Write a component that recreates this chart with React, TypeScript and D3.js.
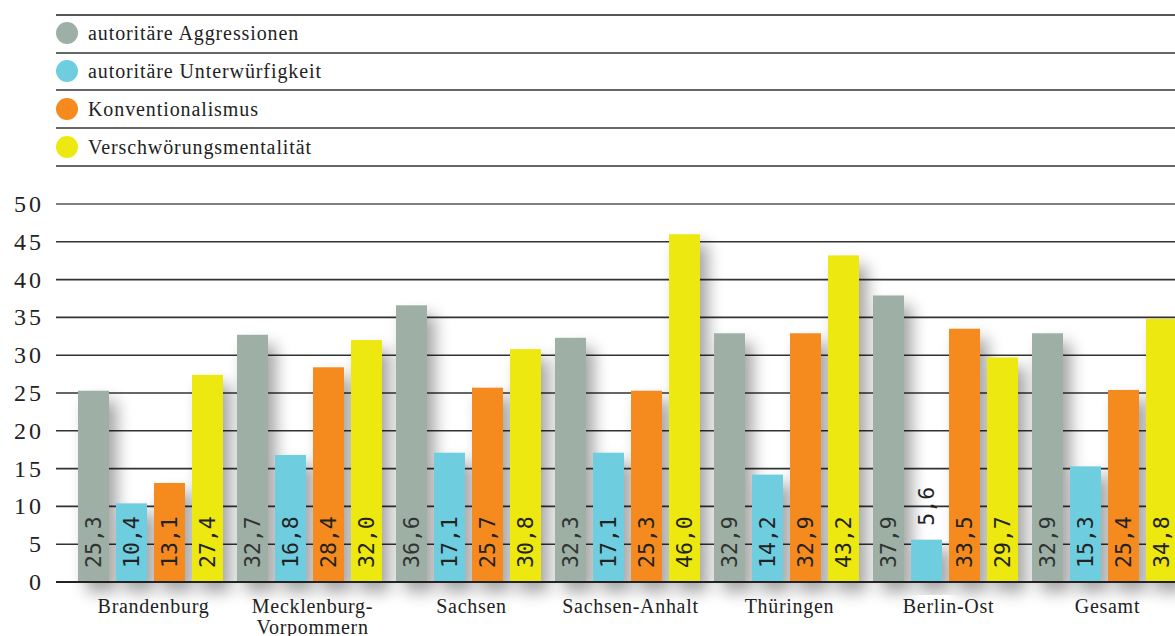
import React from "react";
import * as d3 from "d3";

const categories = ["Brandenburg", "Mecklenburg-\nVorpommern", "Sachsen", "Sachsen-Anhalt", "Thüringen", "Berlin-Ost", "Gesamt"];
const seriesNames = ["autoritäre Aggressionen", "autoritäre Unterwürfigkeit", "Konventionalismus", "Verschwörungsmentalität"];
const seriesColors = ["#9eafa5", "#6fcde0", "#f58a1f", "#ede80f"];
const aggression = [25.3, 32.7, 36.6, 32.3, 32.9, 37.9, 32.9];
const submission = [10.4, 16.8, 17.1, 17.1, 14.2, 5.6, 15.3];
const convention = [13.1, 28.4, 25.7, 25.3, 32.9, 33.5, 25.4];
const conspiracy = [27.4, 32.0, 30.8, 46.0, 43.2, 29.7, 34.8];
const yTicks = [0, 5, 10, 15, 20, 25, 30, 35, 40, 45, 50];

const W = 1175, H = 636;
const SERIF = "Liberation Serif, Times New Roman, serif";

export default function App() {
  const series = [aggression, submission, convention, conspiracy];
  const y = d3.scaleLinear().domain([0, 50]).range([582, 204]);
  const x0 = d3.scaleBand<number>().domain(d3.range(categories.length)).range([78, 1177]).paddingInner(14 / 159).paddingOuter(0);
  const x1 = d3.scaleBand<number>().domain(d3.range(4)).range([0, x0.bandwidth()]).paddingInner(7 / 38).paddingOuter(0);
  const fmt = (v: number) => v.toFixed(1).replace(".", ",");

  const bars: { cx: number; x: number; w: number; v: number; s: number }[] = [];
  categories.forEach((_, ci) => {
    series.forEach((arr, si) => {
      const x = x0(ci)! + x1(si)!;
      bars.push({ x, w: x1.bandwidth(), cx: x + x1.bandwidth() / 2, v: arr[ci], s: si });
    });
  });

  const legendLines = [15, 53, 90, 128, 166];

  return (
    <svg width={W} height={H} style={{ position: "absolute", left: 0, top: 0, background: "#fff" }}>
      <defs>
        <filter id="sh" x="-80%" y="-20%" width="260%" height="150%">
          <feGaussianBlur in="SourceAlpha" stdDeviation="8" />
          <feOffset dx="8" dy="10" result="b" />
          <feComponentTransfer>
            <feFuncA type="linear" slope="0.36" />
          </feComponentTransfer>
        </filter>
      </defs>
      <rect width={W} height={H} fill="#fff" />
      {/* legend */}
      {legendLines.map((ly, i) => (
        <line key={i} x1={56} x2={W} y1={ly} y2={ly} stroke={i === 0 ? "#555" : "#333"} strokeWidth={i === 0 ? 2 : 1.6} />
      ))}
      {seriesNames.map((n, i) => (
        <g key={n}>
          <circle cx={67} cy={33 + i * 38} r={11} fill={seriesColors[i]} />
          <text x={88} y={40 + i * 38} fontFamily={SERIF} fontSize={20} letterSpacing={0.9} fill="#222">{n}</text>
        </g>
      ))}
      {/* grid */}
      {yTicks.filter((t) => t > 0).map((t) => (
        <line key={t} x1={56} x2={W} y1={y(t)} y2={y(t)} stroke={t === 50 ? "#555" : "#333"} strokeWidth={1.6} />
      ))}
      {yTicks.map((t) => (
        <text key={t} x={44} y={y(t) + 8} textAnchor="end" fontFamily={SERIF} fontSize={24} letterSpacing={3} fill="#222">{t}</text>
      ))}
      {/* shadows */}
      {bars.map((b, i) => (
        <rect key={i} x={b.x} y={y(b.v)} width={b.w} height={y(0) - y(b.v)} fill="#000" filter="url(#sh)" />
      ))}
      <line x1={56} x2={W} y1={y(0)} y2={y(0)} stroke="#222" strokeWidth={2} />
      {bars.map((b, i) => (
        <rect key={i} x={b.x} y={y(b.v)} width={b.w} height={y(0) - y(b.v) - 1} fill={seriesColors[b.s]} />
      ))}
      {bars.map((b, i) => {
        const above = y(0) - y(b.v) < 60;
        const sy = above ? y(b.v) - 14 : 568;
        return (
          <text key={i} transform={`translate(${b.cx},${sy}) rotate(-90)`} dy="0.37em" fontFamily="DejaVu Sans Mono, monospace" fontSize={21.5} fill={b.s === 0 ? "#2e3430" : "#222"}>{fmt(b.v)}</text>
        );
      })}
      {categories.map((c, ci) => {
        const lines = c.split("\n");
        const cx = x0(ci)! + x0.bandwidth() / 2 + 3;
        return (
          <text key={ci} x={cx} y={613} textAnchor="middle" fontFamily={SERIF} fontSize={20} letterSpacing={0.7} fill="#222">
            {lines.map((l, li) => (
              <tspan key={li} x={cx} dy={li === 0 ? 0 : 21}>{l}</tspan>
            ))}
          </text>
        );
      })}
    </svg>
  );
}
